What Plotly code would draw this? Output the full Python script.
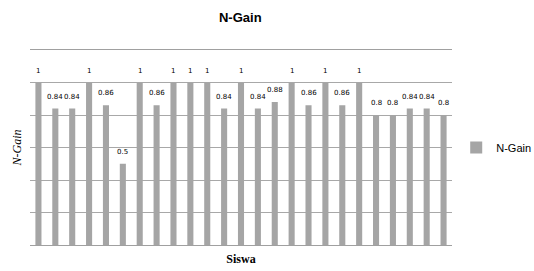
import plotly.graph_objects as go

students = list(range(1, 26))
ngain = [1, 0.84, 0.84, 1, 0.86, 0.5, 1, 0.86, 1, 1, 1, 0.84, 1, 0.84, 0.88,
         1, 0.86, 1, 0.86, 1, 0.8, 0.8, 0.84, 0.84, 0.8]
labels = ["1" if v == 1 else f"{v:g}" for v in ngain]

fig = go.Figure()
fig.add_trace(go.Bar(x=students, y=ngain, name="N-Gain",
                     marker=dict(color="#a5a5a5", line=dict(width=0)),
                     showlegend=True))

for s, v, t in zip(students, ngain, labels):
    fig.add_annotation(x=s, y=v, text=t, showarrow=False, yshift=12,
                       font=dict(family="DejaVu Sans", size=7, color="#000000"))

fig.update_layout(
    width=534, height=271,
    margin=dict(l=30, r=82, t=50, b=26, autoexpand=False),
    paper_bgcolor="white", plot_bgcolor="white",
    bargap=0.64,
    title=dict(text="<b>N-Gain</b>", x=0.45, xanchor="center", y=0.935, yanchor="middle",
               font=dict(family="Liberation Sans", size=13, color="#000000")),
    showlegend=True,
    legend=dict(x=1.01, y=0.5, xanchor="left", yanchor="middle",
                font=dict(family="Liberation Sans", size=11, color="#000000"),
                itemwidth=30),
    xaxis=dict(range=[0.5, 25.5], showticklabels=False, ticks="", showgrid=False,
               automargin=False,
               showline=True, mirror=True, linecolor="#a0a0a0", linewidth=1,
               title=dict(text="<b>Siswa</b>", standoff=9,
                          font=dict(family="Liberation Serif", size=12, color="#000000"))),
    yaxis=dict(range=[0, 1.2], dtick=0.2, showticklabels=False, ticks="",
               automargin=False,
               showgrid=True, gridcolor="#a8a8a8", gridwidth=1, zeroline=False,
               showline=False,
               title=dict(text="<i>N-Gain</i>", standoff=4,
                          font=dict(family="Liberation Serif", size=12, color="#000000"))),
)

fig.write_html("out.html", config={"displayModeBar": False},
               post_script="document.body.style.margin='0';")
